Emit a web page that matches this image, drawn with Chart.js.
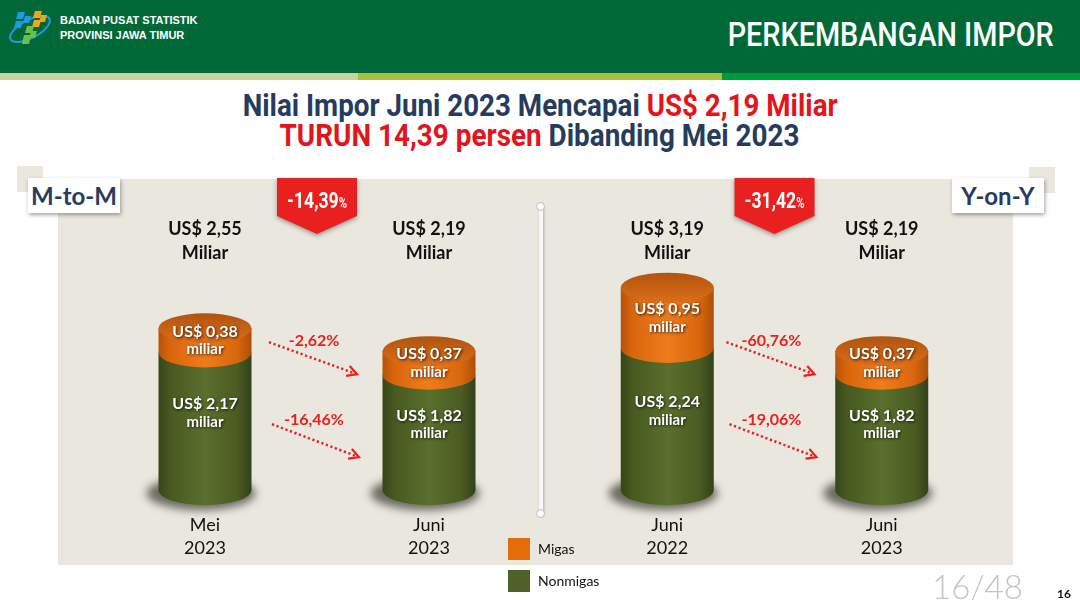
<!DOCTYPE html>
<html>
<head>
<meta charset="utf-8">
<script src="https://cdn.jsdelivr.net/npm/chart.js@4.4.0/dist/chart.umd.min.js"></script>
<style>
  body { margin: 0; width: 1080px; height: 600px; position: relative; overflow: hidden; background: #fff; font-family: Lato, "Open Sans", sans-serif; }
  .abs { position: absolute; }
  #hdr { left: 0; top: 0; width: 1080px; height: 73px; background: #006837; }
  .strip { top: 73px; height: 7px; }
  .org { color: #fff; font-family: "Liberation Sans", Arial, sans-serif; font-weight: bold; font-size: 11px; left: 60px; }
  #pageTitle { right: 26px; top: 13px; color: #fff; font-family: Roboto, sans-serif; font-weight: 500; font-size: 33px; line-height: 44px; white-space: nowrap; transform-origin: right center; }
  .title { left: 0; width: 1080px; text-align: center; font-family: Roboto, sans-serif; font-weight: bold; font-size: 32px; line-height: 34px; color: #263c5e; }
  .title span.fit { display: inline-block; white-space: nowrap; transform-origin: center center; }
  .red { color: #e3141b; }
  #panel { left: 58px; top: 179px; width: 955px; height: 386px; background: #eae7df; }
  .sq { width: 26px; height: 26px; background: #eae7df; }
  .tag { height: 35px; width: 92px; background: #fff; box-shadow: 1px 2px 4px rgba(0,0,0,0.35); color: #263c5e; font-weight: bold; font-size: 24px; line-height: 35px; text-align: center; }
  #divider { left: 539px; top: 206px; width: 4px; height: 308px; background: #f7f7f7; box-shadow: 1px 1px 3px rgba(0,0,0,0.25); }
  .dot { width: 7px; height: 7px; border-radius: 50%; background: #fff; border: 1px solid #bbb; left: 536px; }
  canvas { position: absolute; top: 0; }
  #legend .item { position: absolute; left: 508px; height: 22px; font-size: 14px; line-height: 22px; color: #111; }
  #legend .box { position: absolute; left: 0; top: 0; width: 22px; height: 22px; }
  #legend .lbl { position: absolute; left: 30px; top: 0; white-space: nowrap; }
</style>
</head>
<body>
<div id="hdr" class="abs"></div>
<div class="abs strip" style="left:0;width:358px;background:#c3d69b"></div>
<div class="abs strip" style="left:358px;width:364px;background:#a6c23c"></div>
<div class="abs strip" style="left:722px;width:358px;background:#009a3e"></div>
<svg class="abs" style="left:0;top:0" width="60" height="55">
  <ellipse cx="30" cy="29" rx="22" ry="9" transform="rotate(-28 30 29)" fill="none" stroke="#1e9be0" stroke-width="2"/>
  <polygon points="18,12 25,12 23,19 16,19" fill="#1e9be0"/>
  <polygon points="25,16 31,16 29,23 23,23" fill="#1e9be0"/>
  <polygon points="16,21 23,21 21,28 14,28" fill="#1e9be0"/>
  <polygon points="35,11 42,11 40,18 33,18" fill="#f7a21b"/>
  <polygon points="41,15 47,15 45,22 39,22" fill="#f7a21b"/>
  <polygon points="34,20 41,20 39,27 32,27" fill="#f7a21b"/>
  <polygon points="27,26 34,26 32,33 25,33" fill="#6cc04a"/>
  <polygon points="31,31 37,31 35,38 29,38" fill="#6cc04a"/>
  <polygon points="24,35 31,35 29,44 22,44" fill="#6cc04a"/>
</svg>
<div class="abs org" style="top:14px">BADAN PUSAT STATISTIK</div>
<div class="abs org" style="top:29px">PROVINSI JAWA TIMUR</div>
<div id="pageTitle" class="abs">PERKEMBANGAN IMPOR</div>

<div class="abs title" style="top:88px"><span class="fit" id="t1">Nilai Impor Juni 2023 Mencapai <span class="red">US$ 2,19 Miliar</span></span></div>
<div class="abs title" style="top:118px"><span class="fit" id="t2"><span class="red">TURUN 14,39 persen</span> Dibanding Mei 2023</span></div>

<div id="panel" class="abs"></div>
<div class="abs sq" style="left:17px;top:166px"></div>
<div class="abs sq" style="left:1029px;top:167px"></div>
<div class="abs tag" style="left:28px;top:178px">M-to-M</div>
<div class="abs tag" style="left:952px;top:178px">Y-on-Y</div>
<div id="divider" class="abs"></div>
<div class="abs dot" style="top:202px"></div>
<div class="abs dot" style="top:509px"></div>

<canvas id="mtm" width="560" height="600" style="left:0"></canvas>
<canvas id="yoy" width="560" height="600" style="left:520px"></canvas>

<div id="legend"></div>
<div class="abs" style="left:932px;top:566px;font-size:33px;color:#c4c4c4;font-weight:300;line-height:40px">16/48</div>
<div class="abs" style="left:1057px;top:586px;font-size:12px;font-weight:bold;color:#111">16</div>

<script>
// data (US$ miliar)
const seriesNames = ['Nonmigas', 'Migas'];
const seriesColors = ['#4f6228', '#e46c0a'];

const mtmLabels = [['Mei', '2023'], ['Juni', '2023']];
const mtmNonmigas = [2.17, 1.82];
const mtmMigas = [0.38, 0.37];
const mtmTotalChange = '-14,39';
const mtmChanges = ['-2,62%', '-16,46%'];   // migas, nonmigas

const yoyLabels = [['Juni', '2022'], ['Juni', '2023']];
const yoyNonmigas = [2.24, 1.82];
const yoyMigas = [0.95, 0.37];
const yoyTotalChange = '-31,42';
const yoyChanges = ['-60,76%', '-19,06%'];

const RED = '#e8201f';
const CONDENSED = 'Roboto, sans-serif';

// squeeze headings to the narrow width of the original condensed face
function fitWidth(el, target) {
  const w = el.getBoundingClientRect().width;
  el.style.transform = 'scaleX(' + (target / w) + ')';
}
fitWidth(document.getElementById('t1'), 595);
fitWidth(document.getElementById('t2'), 520);
fitWidth(document.getElementById('pageTitle'), 326);

function usd(v) {
  return 'US$ ' + v.toFixed(2).replace('.', ',');
}

function bodyPath(ctx, x, rx, top, base, ry) {
  ctx.beginPath();
  ctx.moveTo(x - rx, top);
  ctx.lineTo(x - rx, base);
  ctx.ellipse(x, base, rx, ry, 0, Math.PI, 0, true);
  ctx.lineTo(x + rx, top);
  ctx.closePath();
}

function hGrad(ctx, x, rx, stops) {
  const g = ctx.createLinearGradient(x - rx, 0, x + rx, 0);
  stops.forEach(function(s) { g.addColorStop(s[0], s[1]); });
  return g;
}

const greenStops = [[0, '#36451a'], [0.12, '#46591f'], [0.5, '#5a6f2d'], [0.85, '#4a5c22'], [1, '#33411a']];
const orangeStops = [[0, '#b4520a'], [0.12, '#d8650c'], [0.5, '#ef7c1c'], [0.85, '#d8660d'], [1, '#ad4f0a']];

function label2(ctx, x, y, l1, l2, size1, size2) {
  ctx.save();
  ctx.fillStyle = '#fff';
  ctx.textAlign = 'center';
  ctx.textBaseline = 'middle';
  ctx.shadowColor = 'rgba(0,0,0,0.75)';
  ctx.shadowBlur = 3;
  ctx.shadowOffsetX = 1;
  ctx.shadowOffsetY = 1;
  ctx.font = 'bold ' + size1 + 'px Lato';
  ctx.fillText(l1, x, y - 9);
  ctx.font = 'bold ' + size2 + 'px Lato';
  ctx.fillText(l2, x, y + 9);
  ctx.restore();
}

function dottedArrow(ctx, x0, y0, x1, y1) {
  ctx.save();
  ctx.strokeStyle = RED;
  ctx.lineWidth = 2.5;
  ctx.setLineDash([2.2, 2.6]);
  ctx.beginPath();
  ctx.moveTo(x0, y0);
  ctx.lineTo(x1, y1);
  ctx.stroke();
  ctx.setLineDash([]);
  const a = Math.atan2(y1 - y0, x1 - x0);
  ctx.lineWidth = 2.2;
  ctx.beginPath();
  ctx.moveTo(x1 - 11 * Math.cos(a - 0.5), y1 - 11 * Math.sin(a - 0.5));
  ctx.lineTo(x1, y1);
  ctx.lineTo(x1 - 11 * Math.cos(a + 0.5), y1 - 11 * Math.sin(a + 0.5));
  ctx.stroke();
  ctx.restore();
}

function redText(ctx, txt, x, y) {
  ctx.save();
  ctx.fillStyle = RED;
  ctx.font = 'bold 16px Lato';
  ctx.textAlign = 'center';
  ctx.textBaseline = 'middle';
  ctx.fillText(txt, x, y);
  ctx.restore();
}

const cylinderPlugin = {
  id: 'cylinders',
  afterDatasetsDraw(chart, args, opts) {
    const ctx = chart.ctx;
    const area = chart.chartArea;
    const lower = chart.getDatasetMeta(0).data;
    const upper = chart.getDatasetMeta(1).data;
    const ds = chart.data.datasets;
    const ry = 15;

    lower.forEach(function(bar, i) {
      const top = upper[i];
      const x = bar.x, rx = bar.width / 2;

      // shadow under the cylinder
      ctx.save();
      ctx.filter = 'blur(4px)';
      ctx.fillStyle = 'rgba(25,25,15,0.6)';
      ctx.beginPath();
      ctx.ellipse(x - 4, bar.base + 3, rx + 8, ry + 2, 0, 0, Math.PI * 2);
      ctx.fill();
      ctx.restore();

      bodyPath(ctx, x, rx, bar.y, bar.base, ry);
      ctx.fillStyle = hGrad(ctx, x, rx, greenStops);
      ctx.fill();

      bodyPath(ctx, x, rx, top.y, top.base, ry);
      ctx.fillStyle = hGrad(ctx, x, rx, orangeStops);
      ctx.fill();

      // top face
      const tg = ctx.createLinearGradient(0, top.y - ry, 0, top.y + ry);
      tg.addColorStop(0, '#b0540f');
      tg.addColorStop(1, '#de6e18');
      ctx.beginPath();
      ctx.ellipse(x, top.y, rx, ry, 0, 0, Math.PI * 2);
      ctx.fillStyle = tg;
      ctx.fill();

      // values inside
      const vLow = ds[0].data[i], vUp = ds[1].data[i];
      label2(ctx, x, (top.y + top.base) / 2, usd(vUp), 'miliar', 16, 15);
      label2(ctx, x, (bar.y + bar.base) / 2 - 8, usd(vLow), 'miliar', 16, 15);

      // total above
      ctx.save();
      ctx.fillStyle = '#111';
      ctx.font = 'bold 18px Lato';
      ctx.textAlign = 'center';
      ctx.textBaseline = 'middle';
      ctx.fillText(usd(vLow + vUp), x, 229);
      ctx.fillText('Miliar', x, 253);
      ctx.restore();
    });

    // change arrows between the two cylinders
    const mid = (lower[0].x + lower[1].x) / 2 - 3;
    const b = area.bottom;
    dottedArrow(ctx, mid - 45, b - 148, mid + 43, b - 116);
    dottedArrow(ctx, mid - 42, b - 66, mid + 45, b - 33);
    redText(ctx, opts.changes[0], mid, b - 149);
    redText(ctx, opts.changes[1], mid, b - 70);

    // red badge with the total change
    const cx = (lower[0].x + lower[1].x) / 2;
    ctx.save();
    ctx.shadowColor = 'rgba(0,0,0,0.35)';
    ctx.shadowBlur = 4;
    ctx.shadowOffsetY = 2;
    ctx.fillStyle = RED;
    ctx.beginPath();
    ctx.moveTo(cx - 40, 178);
    ctx.lineTo(cx + 40, 178);
    ctx.lineTo(cx + 40, 216);
    ctx.lineTo(cx, 234);
    ctx.lineTo(cx - 40, 216);
    ctx.closePath();
    ctx.fill();
    ctx.restore();
    ctx.save();
    ctx.fillStyle = '#fff';
    ctx.textBaseline = 'alphabetic';
    const f1 = 'bold 22px ' + CONDENSED, f2 = 'bold 14px ' + CONDENSED;
    ctx.font = f1;
    const w1 = ctx.measureText(opts.badge).width;
    ctx.font = f2;
    const w2 = ctx.measureText('%').width;
    const s = 60 / (w1 + w2);
    ctx.translate(cx, 0);
    ctx.scale(s, 1);
    const sx = -(w1 + w2) / 2;
    ctx.font = f1;
    ctx.fillText(opts.badge, sx, 208);
    ctx.font = f2;
    ctx.fillText('%', sx + w1, 208);
    ctx.restore();
  }
};

function makeChart(id, labels, nonmigas, migas, badge, changes, padL, padR) {
  return new Chart(document.getElementById(id), {
    type: 'bar',
    data: {
      labels: labels,
      datasets: [
        { label: seriesNames[0], data: nonmigas, backgroundColor: 'rgba(0,0,0,0)' },
        { label: seriesNames[1], data: migas, backgroundColor: 'rgba(0,0,0,0)' }
      ]
    },
    options: {
      responsive: false,
      animation: false,
      layout: { padding: { left: padL, right: padR, top: 204.5, bottom: 17 } },
      datasets: { bar: { barThickness: 93 } },
      plugins: {
        legend: { display: false },
        tooltip: { enabled: false },
        cylinders: { badge: badge, changes: changes }
      },
      scales: {
        x: {
          stacked: true,
          grid: { display: false, drawTicks: false },
          border: { display: false },
          ticks: { color: '#111', padding: 23, font: { family: 'Lato', size: 18, lineHeight: 1.3 } }
        },
        y: { stacked: true, display: false, min: 0, max: 4.5 }
      }
    },
    plugins: [cylinderPlugin]
  });
}

makeChart('mtm', mtmLabels, mtmNonmigas, mtmMigas, mtmTotalChange, mtmChanges, 93, 19);
makeChart('yoy', yoyLabels, yoyNonmigas, yoyMigas, yoyTotalChange, yoyChanges, 40, 91);

// legend built from the series
const legend = document.getElementById('legend');
[1, 0].forEach(function(k, row) {
  const item = document.createElement('div');
  item.className = 'item';
  item.style.top = (538 + row * 32) + 'px';
  item.innerHTML = '<div class="box" style="background:' + seriesColors[k] + '"></div><div class="lbl">' + seriesNames[k] + '</div>';
  legend.appendChild(item);
});
</script>
</body>
</html>
